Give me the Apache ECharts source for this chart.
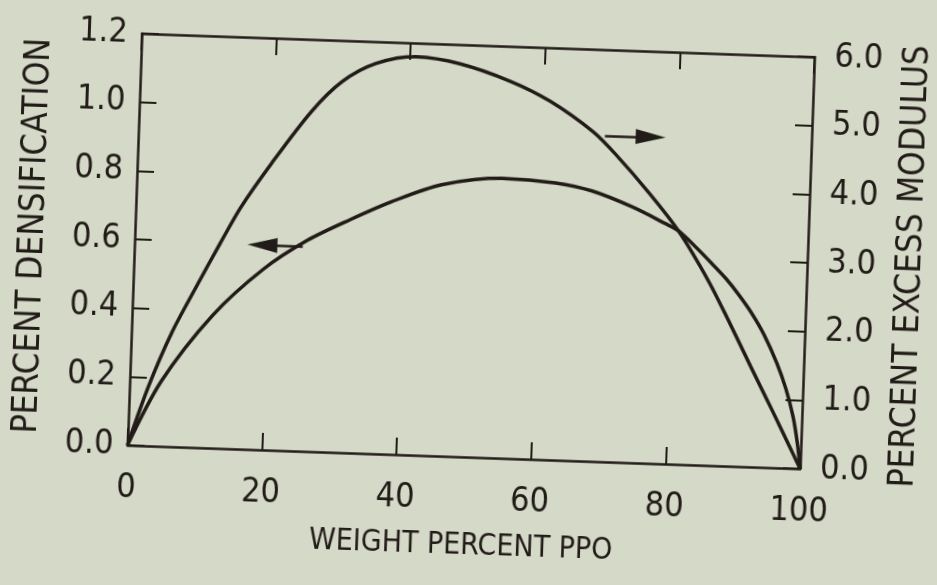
<!DOCTYPE html>
<html>
<head>
<meta charset="utf-8">
<script src="https://cdn.jsdelivr.net/npm/echarts@6/dist/echarts.min.js"></script>
<style>
  html, body { margin: 0; padding: 0; background: #d5d9c8; overflow: hidden; width: 937px; height: 585px; }
  #chart { width: 937px; height: 585px; transform: rotate(2deg); transform-origin: 50% 50%; }
</style>
</head>
<body>
<div id="chart"></div>
<script>
// ---- data ----
const xTicks = [0, 20, 40, 60, 80, 100];
const leftTicks = ['0.0', '0.2', '0.4', '0.6', '0.8', '1.0', '1.2'];
const rightTicks = ['0.0', '1.0', '2.0', '3.0', '4.0', '5.0', '6.0'];

// Percent densification (left axis) vs weight percent PPO
const densX = [0, 4.7, 11.9, 19.2, 25.7, 32, 37.9, 45.3, 54.2, 62.2, 67.7, 73.7, 78.7, 80.7, 83.5, 86, 88, 90, 92, 94, 96, 97.5, 98.7, 99.5, 100];
const densY = [0, 0.19, 0.385, 0.525, 0.615, 0.68, 0.735, 0.79, 0.815, 0.807, 0.787, 0.745, 0.70, 0.68, 0.632, 0.585, 0.546, 0.50, 0.448, 0.385, 0.305, 0.23, 0.15, 0.07, 0];

// Percent excess modulus (right axis) vs weight percent PPO
const modX = [0, 2.8, 6.0, 9.4, 12.7, 15.6, 19.9, 25.6, 30, 34.9, 40.8, 47.4, 55, 61, 67.5, 71, 76.3, 80.7, 85.4, 88.6, 92.2, 95.8, 99.0, 100];
const modY = [0, 0.86, 1.66, 2.34, 2.98, 3.52, 4.17, 4.95, 5.40, 5.68, 5.80, 5.72, 5.49, 5.22, 4.8, 4.48, 3.92, 3.40, 2.69, 2.12, 1.45, 0.79, 0.19, 0];

// Annotation arrows: [from, to]
const densArrow = [[25, 0.596], [19, 0.596]];
const modArrow = [[69.3, 4.75], [76.1, 4.75]];

// ---- chart ----
const ink = '#221c18';
const font = '"Liberation Sans Narrow", "DejaVu Sans Condensed", "Liberation Sans", sans-serif';
const chart = echarts.init(document.getElementById('chart'));

const pairs = (xs, ys) => xs.map((x, i) => [x, ys[i]]);

const baseAxis = () => ({
  axisLine: { show: true, onZero: false, lineStyle: { color: ink, width: 2.5 } },
  axisTick: { show: true, inside: true, length: 17, lineStyle: { color: ink, width: 2 } },
  splitLine: { show: false }
});

chart.setOption({
  animation: false,
  backgroundColor: '#d5d9c8',
  grid: { left: 133, right: 131, top: 45, bottom: 585 - 457, containLabel: false },
  xAxis: [
    Object.assign(baseAxis(), {
      type: 'value', position: 'bottom', min: 0, max: 100, interval: 20,
      axisLabel: { color: ink, fontFamily: font, fontSize: 34, margin: 26,
        formatter: v => String(xTicks[xTicks.indexOf(v)]) },
      name: 'WEIGHT PERCENT PPO', nameLocation: 'middle', nameGap: 74,
      nameTextStyle: { color: ink, fontFamily: font, fontSize: 30 }
    }),
    Object.assign(baseAxis(), {
      type: 'value', position: 'top', min: 0, max: 100, interval: 20,
      axisLabel: { show: false }
    })
  ],
  yAxis: [
    Object.assign(baseAxis(), {
      type: 'value', position: 'left', min: 0, max: 1.2, interval: 0.2,
      axisLabel: { color: ink, fontFamily: font, fontSize: 34, margin: 14,
        formatter: v => leftTicks[Math.round(v / 0.2)] },
      name: 'PERCENT DENSIFICATION', nameLocation: 'middle', nameRotate: 90, nameGap: 84,
      nameTextStyle: { color: ink, fontFamily: font, fontSize: 35 }
    }),
    Object.assign(baseAxis(), {
      type: 'value', position: 'right', min: 0, max: 6, interval: 1,
      axisLabel: { color: ink, fontFamily: font, fontSize: 34, margin: 20,
        formatter: v => rightTicks[Math.round(v)] },
      name: 'PERCENT EXCESS MODULUS', nameLocation: 'middle', nameRotate: 90, nameGap: 86,
      nameTextStyle: { color: ink, fontFamily: font, fontSize: 35 }
    })
  ],
  series: [
    {
      name: 'Percent densification', type: 'line', xAxisIndex: 0, yAxisIndex: 0,
      data: pairs(densX, densY), smooth: 0.3, showSymbol: false,
      lineStyle: { color: ink, width: 3.5 },
      markLine: {
        silent: true, animation: false,
        symbol: ['none', 'triangle'], symbolSize: [15, 30],
        label: { show: false },
        lineStyle: { color: ink, width: 2.5, type: 'solid' },
        data: [[{ coord: densArrow[0] }, { coord: densArrow[1] }]]
      }
    },
    {
      name: 'Percent excess modulus', type: 'line', xAxisIndex: 0, yAxisIndex: 1,
      data: pairs(modX, modY), smooth: 0.3, showSymbol: false,
      lineStyle: { color: ink, width: 3.5 },
      markLine: {
        silent: true, animation: false,
        symbol: ['none', 'triangle'], symbolSize: [15, 30],
        label: { show: false },
        lineStyle: { color: ink, width: 2.5, type: 'solid' },
        data: [[{ coord: modArrow[0] }, { coord: modArrow[1] }]]
      }
    }
  ]
});
</script>
</body>
</html>
